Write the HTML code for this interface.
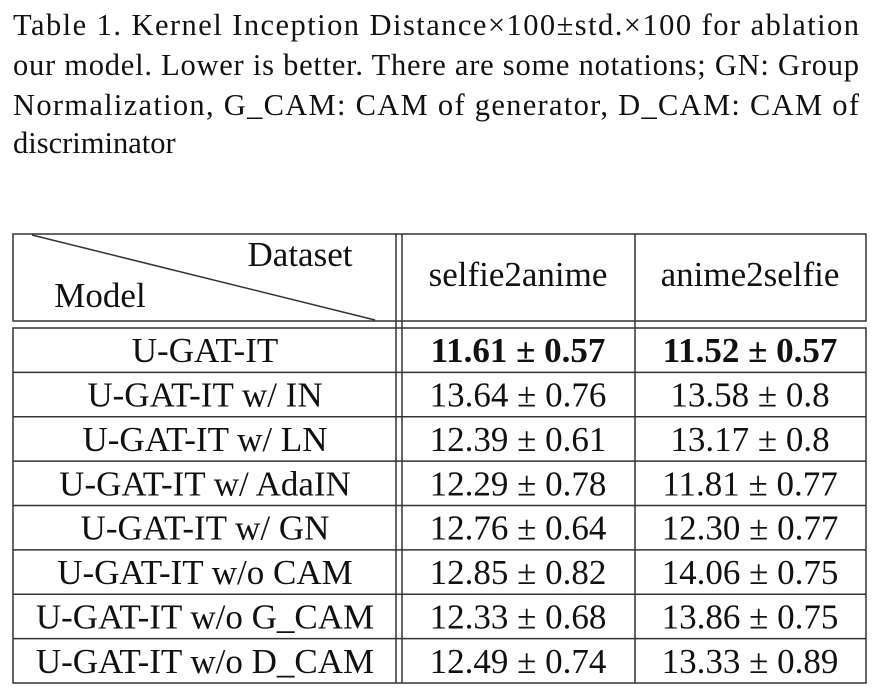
<!DOCTYPE html>
<html><head><meta charset="utf-8"><style>
html,body{margin:0;padding:0;background:#fff;}
svg{display:block;font-family:"Liberation Serif",serif;}
</style></head><body>
<svg width="876" height="692" viewBox="0 0 876 692">
<g font-size="30.5" fill="#111">
<text x="13" y="35" textLength="846" lengthAdjust="spacing">Table 1. Kernel Inception Distance×100±std.×100 for ablation</text>
<text x="13" y="75" textLength="846" lengthAdjust="spacing">our model. Lower is better. There are some notations; GN: Group</text>
<text x="13" y="115" textLength="846" lengthAdjust="spacing">Normalization, G_CAM: CAM of generator, D_CAM: CAM of</text>
<text x="13" y="153">discriminator</text>
</g>
<g stroke="#333" stroke-width="1.5" fill="none">
<rect x="13" y="234" width="853" height="87"/>
<rect x="13" y="328" width="853" height="355"/>
<line x1="396" y1="234" x2="396" y2="683"/>
<line x1="402" y1="234" x2="402" y2="683"/>
<line x1="635" y1="234" x2="635" y2="683"/>
<line x1="32" y1="235" x2="375" y2="320"/>
<g id="rowlines"></g>
</g>
<g font-size="35" fill="#111" text-anchor="middle">
<text x="300" y="266">Dataset</text>
<text x="100" y="307">Model</text>
<text x="518" y="286">selfie2anime</text>
<text x="750" y="286">anime2selfie</text>
</g>
<g id="body" font-size="35" fill="#111" text-anchor="middle"></g>
</svg>
<script>
const models=["U-GAT-IT","U-GAT-IT w/ IN","U-GAT-IT w/ LN","U-GAT-IT w/ AdaIN","U-GAT-IT w/ GN","U-GAT-IT w/o CAM","U-GAT-IT w/o G_CAM","U-GAT-IT w/o D_CAM"];
const s2a=["11.61 ± 0.57","13.64 ± 0.76","12.39 ± 0.61","12.29 ± 0.78","12.76 ± 0.64","12.85 ± 0.82","12.33 ± 0.68","12.49 ± 0.74"];
const a2s=["11.52 ± 0.57","13.58 ± 0.8","13.17 ± 0.8","11.81 ± 0.77","12.30 ± 0.77","14.06 ± 0.75","13.86 ± 0.75","13.33 ± 0.89"];
const NS="http://www.w3.org/2000/svg";
const body=document.getElementById('body'),rl=document.getElementById('rowlines');
const top0=328,pitch=355/8;
models.forEach((m,i)=>{
  const y=top0+pitch*i+pitch/2+12;
  [[205,m],[518,s2a[i]],[750,a2s[i]]].forEach(([x,t],j)=>{
    const el=document.createElementNS(NS,'text');
    el.setAttribute('x',x);el.setAttribute('y',y);
    el.textContent=t;
    if(i===0&&j>0)el.setAttribute('font-weight','bold');
    
    
    body.appendChild(el);
  });
  if(i>0){
    const ln=document.createElementNS(NS,'line');
    const ly=top0+pitch*i;
    ln.setAttribute('x1',13);ln.setAttribute('x2',866);
    ln.setAttribute('y1',ly);ln.setAttribute('y2',ly);
    
    
    rl.appendChild(ln);
  }
});
</script>
</body></html>
